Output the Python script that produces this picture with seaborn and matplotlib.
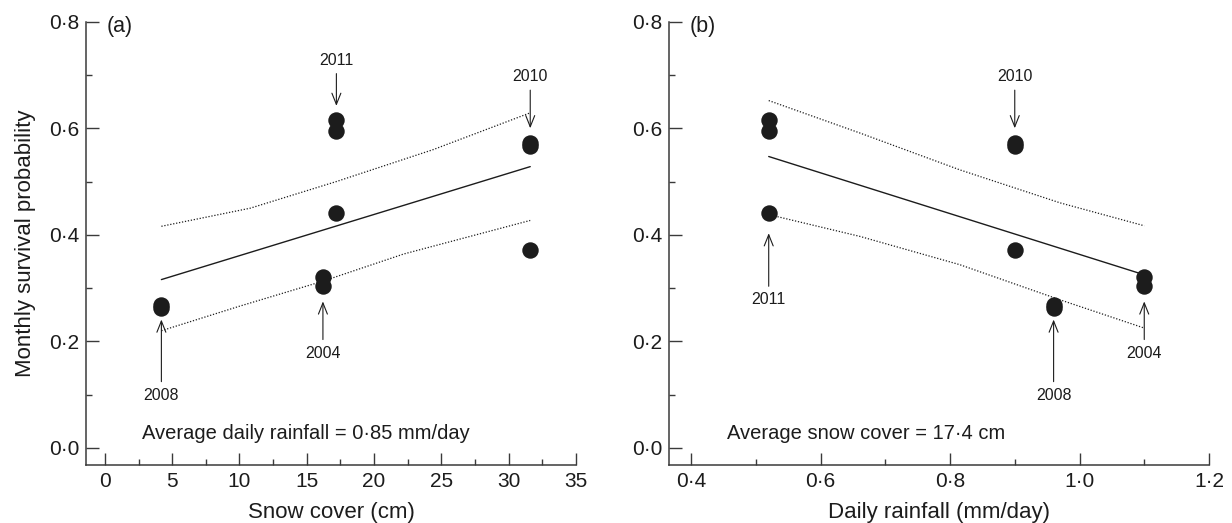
'''
survival probability vs snow cover / rainfall, two panels
'''
import matplotlib
matplotlib.use('Agg')
import pandas as pd
import seaborn as sns
import matplotlib.pyplot as plt
from matplotlib.ticker import FuncFormatter, MultipleLocator

# panel (a): snow cover
snow_x = [4.2, 4.2, 16.2, 16.2, 17.2, 17.2, 17.2, 31.6, 31.6, 31.6]
snow_y = [0.263, 0.269, 0.320, 0.304, 0.615, 0.594, 0.441, 0.572, 0.567, 0.372]
snow_fit_x = [4.2, 31.6]
snow_fit_y = [0.316, 0.528]
snow_hi_x = [4.2, 10.8, 17.2, 24.4, 31.6]
snow_hi_y = [0.416, 0.450, 0.500, 0.560, 0.629]
snow_lo_x = [4.2, 10.0, 16.2, 22.2, 31.6]
snow_lo_y = [0.220, 0.266, 0.313, 0.364, 0.427]
snow_years = ['2011', '2010', '2008', '2004']
snow_arrow_tip = [(17.2, 0.642), (31.6, 0.600), (4.2, 0.241), (16.2, 0.275)]
snow_label_pos = [(17.2, 0.728), (31.6, 0.697), (4.2, 0.099), (16.2, 0.178)]

# panel (b): rainfall
rain_x = [0.52, 0.52, 0.52, 0.90, 0.90, 0.90, 0.96, 0.96, 1.10, 1.10]
rain_y = [0.615, 0.594, 0.441, 0.572, 0.567, 0.372, 0.263, 0.269, 0.320, 0.304]
rain_fit_x = [0.52, 1.10]
rain_fit_y = [0.547, 0.325]
rain_hi_x = [0.52, 0.661, 0.815, 0.970, 1.10]
rain_hi_y = [0.652, 0.591, 0.522, 0.460, 0.417]
rain_lo_x = [0.52, 0.661, 0.815, 0.970, 1.10]
rain_lo_y = [0.438, 0.397, 0.344, 0.278, 0.225]
rain_years = ['2010', '2011', '2008', '2004']
rain_arrow_tip = [(0.90, 0.600), (0.52, 0.403), (0.96, 0.241), (1.10, 0.275)]
rain_label_pos = [(0.90, 0.697), (0.52, 0.278), (0.96, 0.099), (1.10, 0.178)]

INK = '#1c1c1c'
AX = '#3a3a3a'


def dot_fmt(fmt):
    return FuncFormatter(lambda v, p: (fmt % v).replace('.', '\u00b7'))


def draw_panel(ax, px, py, fx, fy, hx, hy, lx, ly, years, tips, labels):
    sns.scatterplot(x=px, y=py, ax=ax, s=140, color=INK, linewidth=0, zorder=3)
    sns.lineplot(x=fx, y=fy, ax=ax, color=INK, lw=1.0, estimator=None, sort=False)
    for cx, cy in ((hx, hy), (lx, ly)):
        sns.lineplot(x=cx, y=cy, ax=ax, color=INK, lw=0.9, estimator=None,
                     sort=False, linestyle=(0, (1, 1.4)))
    for yr, tip, lab in zip(years, tips, labels):
        ax.annotate(yr, xy=tip, xytext=lab, ha='center', va='center',
                    fontsize=11.5, color=INK,
                    arrowprops=dict(arrowstyle='->,head_length=0.7,head_width=0.28',
                                    color=INK, lw=0.8, shrinkA=2, shrinkB=0))


def main():
    sns.set_theme(style='ticks')
    plt.rcParams['font.family'] = ['Liberation Sans', 'DejaVu Sans']

    fig = plt.figure(figsize=(12.32, 5.23), dpi=100)
    ax1 = fig.add_axes([86 / 1232, 1 - 465 / 523, 490 / 1232, 443.3 / 523])
    ax2 = fig.add_axes([669 / 1232, 1 - 465 / 523, 540 / 1232, 443.3 / 523])

    draw_panel(ax1, snow_x, snow_y, snow_fit_x, snow_fit_y, snow_hi_x, snow_hi_y,
               snow_lo_x, snow_lo_y, snow_years, snow_arrow_tip, snow_label_pos)
    draw_panel(ax2, rain_x, rain_y, rain_fit_x, rain_fit_y, rain_hi_x, rain_hi_y,
               rain_lo_x, rain_lo_y, rain_years, rain_arrow_tip, rain_label_pos)

    ax1.set_xlim(-1.4, 35)
    ax1.xaxis.set_major_locator(MultipleLocator(5))
    ax1.xaxis.set_minor_locator(MultipleLocator(2.5))
    ax1.xaxis.set_major_formatter(dot_fmt('%d'))
    ax2.set_xlim(0.366, 1.2)
    ax2.xaxis.set_major_locator(MultipleLocator(0.2))
    ax2.xaxis.set_minor_locator(MultipleLocator(0.1))
    ax2.xaxis.set_major_formatter(dot_fmt('%.1f'))

    for ax, tag in ((ax1, '(a)'), (ax2, '(b)')):
        ax.set_ylim(-0.032, 0.8)
        ax.yaxis.set_major_locator(MultipleLocator(0.2))
        ax.yaxis.set_minor_locator(MultipleLocator(0.1))
        ax.yaxis.set_major_formatter(dot_fmt('%.1f'))
        sns.despine(ax=ax)
        for s in ('left', 'bottom'):
            ax.spines[s].set_color(AX)
            ax.spines[s].set_linewidth(1.1)
        ax.tick_params(which='major', direction='in', length=9, width=1.0,
                       color=AX, labelsize=15, labelcolor=INK, pad=5)
        ax.tick_params(which='minor', direction='in', length=4.5, width=1.0, color=AX)
        ax.text(0.043 if ax is ax1 else 0.038, 0.99, tag, transform=ax.transAxes,
                ha='left', va='center', fontsize=15.5, color=INK)

    ax1.set_xlabel('Snow cover (cm)', fontsize=16, color=INK, labelpad=8)
    ax2.set_xlabel('Daily rainfall (mm/day)', fontsize=16, color=INK, labelpad=8)
    ax1.set_ylabel('Monthly survival probability', fontsize=16, color=INK, labelpad=9)
    ax2.set_ylabel('')

    ax1.text(0.114, 0.0715, 'Average daily rainfall = 0\u00b785 mm/day',
             transform=ax1.transAxes, ha='left', va='center', fontsize=14.5, color=INK)
    ax2.text(0.107, 0.0715, 'Average snow cover = 17\u00b74 cm',
             transform=ax2.transAxes, ha='left', va='center', fontsize=14.5, color=INK)

    fig.savefig('out.png', dpi=100)


if __name__ == "__main__":
    main()
